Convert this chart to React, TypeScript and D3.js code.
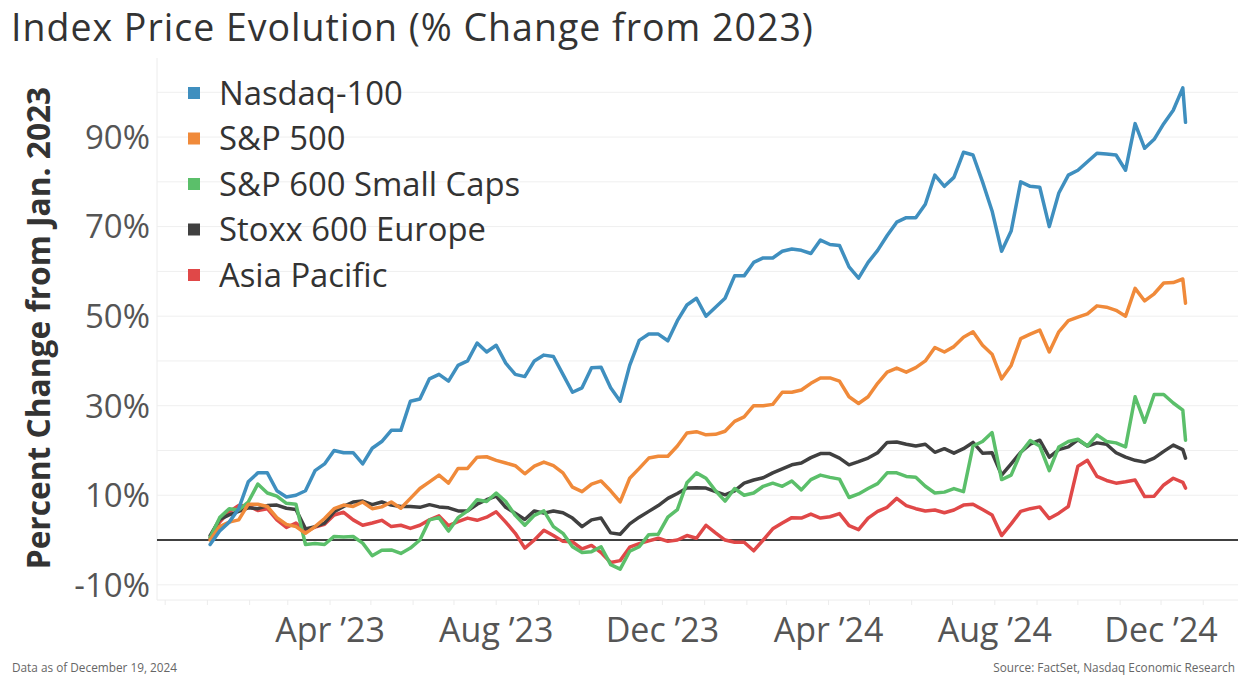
import React from "react";
import * as d3 from "d3";

const seriesNames = ["Nasdaq-100", "S&P 500", "S&P 600 Small Caps", "Stoxx 600 Europe", "Asia Pacific"];
const seriesColors = ["#3f8fbf", "#f08a3a", "#5bbf6a", "#404040", "#e04848"];

// weekly closes from Jan 3, 2023 plus the final close of Dec 19, 2024
const dates: Date[] = d3
  .range(103)
  .map((k) => d3.timeDay.offset(new Date(2023, 0, 3), 7 * k))
  .concat([new Date(2024, 11, 19)]);

const nasdaq = [
  -1, 2, 4, 7, 13, 15, 15, 11, 9.6, 10, 11, 15.5, 17, 20, 19.5, 19.5, 17, 20.5, 22, 24.5,
  24.5, 31, 31.5, 36, 37, 35.5, 39, 40, 44, 42, 43.5, 39.5, 37, 36.5, 40, 41.3, 41, 37, 33, 34,
  38.5, 38.6, 34, 31, 39, 44.6, 46, 46, 44.5, 49, 52.5, 54, 50, 52, 54, 59, 59, 62, 63, 63,
  64.5, 65, 64.7, 64, 67, 66, 65.8, 61, 58.5, 62, 64.7, 68, 71, 72, 72, 75, 81.5, 79, 81, 86.6,
  86, 80, 73.5, 64.5, 69, 80, 79, 78.8, 70, 77.5, 81.5, 82.6, 84.5, 86.4, 86.2, 86, 82.6, 93, 87.5, 89.5,
  93, 96, 101, 93.3,
];
const sp500 = [
  0, 3, 4, 4.5, 8, 8, 7.5, 5, 3.5, 3, 1.5, 3, 4.8, 7, 7.8, 7.5, 8.5, 7, 7.4, 8.5,
  7.1, 9.3, 11.5, 13, 14.5, 12.7, 16, 16, 18.5, 18.6, 17.8, 17.2, 16.6, 14.8, 16.5, 17.4, 16.6, 15, 11.8, 10.8,
  12.5, 13.2, 11, 8.5, 13.8, 16, 18.3, 18.7, 18.7, 21, 23.9, 24.2, 23.5, 23.6, 24.3, 26.5, 27.5, 30, 30, 30.3,
  33, 33, 33.5, 35, 36.2, 36.2, 35.5, 32, 30.5, 32, 35, 37.5, 38.4, 37.5, 38.5, 40, 43, 42, 43.2, 45.3,
  46.5, 43.5, 41.5, 36, 39, 45, 46, 46.9, 42, 46.5, 49, 49.8, 50.5, 52.3, 52, 51.3, 50, 56.2, 53.4, 55,
  57.4, 57.5, 58.3, 52.9,
];
const sp600 = [
  0.5, 5, 7, 6.7, 8.5, 12.5, 10.5, 9.8, 8.2, 8, -1, -0.8, -1, 0.8, 0.7, 0.8, -0.7, -3.5, -2.3, -2.2,
  -3, -1.8, 0, 4.5, 5, 2, 5, 6.5, 9, 8.6, 10.5, 8.6, 5.5, 3.3, 5.5, 6.5, 3, 1.5, -1.5, -2.8,
  -2.6, -1.5, -5.5, -6.5, -2.5, -1.5, 1.2, 1.3, 5.1, 6.8, 12.8, 15, 13.8, 11, 8.7, 11.5, 10, 10.5, 12, 12.7,
  12, 13.2, 11.2, 13.5, 14.5, 14, 13.6, 9.5, 10.3, 11.5, 12.6, 15, 15, 14.2, 14, 12, 10.5, 10.7, 11.5, 10.8,
  21, 22, 24, 13.5, 14.5, 19.5, 22.2, 21, 15.5, 20.8, 22, 22.5, 21, 23.5, 22, 21.7, 20.8, 32, 26.3, 32.5,
  32.5, 30.6, 29, 22.3,
];
const stoxx600 = [
  1, 4.6, 5.6, 6.4, 7.2, 7, 7.7, 7.8, 7.1, 6.8, 2.5, 3, 3.8, 6.3, 7.5, 8.5, 8.7, 7.9, 8.5, 7.8,
  7.5, 7.5, 7.3, 7.9, 7.4, 7.2, 6.5, 6.5, 8, 9, 9.8, 7.3, 6, 4.6, 6.5, 6, 6.5, 6.1, 4.9, 3,
  4.5, 4.9, 1.6, 1.3, 3.6, 5.1, 6.4, 7.7, 9.3, 10.4, 11.6, 11.7, 11.6, 10.8, 10.1, 11, 12.7, 13.4, 13.9, 15,
  15.9, 16.8, 17.2, 18.4, 19.3, 19.3, 18.3, 16.8, 17.5, 18.3, 19.5, 21.8, 21.9, 21.4, 21, 21.4, 19.6, 20.4, 19.4, 20.4,
  21.8, 19.4, 19.5, 14.5, 17, 19.6, 21.4, 22.3, 18.5, 20.2, 20.8, 22.4, 21, 21.7, 21.4, 19.5, 18.5, 17.8, 17.4, 18.3,
  19.8, 21.2, 20.2, 18.3,
];
const asiaPacific = [
  0.5, 4, 6.3, 7.7, 7.6, 6.6, 7, 4.5, 2.8, 3.8, 1.8, 2.9, 3.5, 5.6, 6.2, 4.5, 3.3, 3.8, 4.4, 3,
  3.3, 2.6, 3.3, 4.5, 5.4, 3.2, 4.1, 4.9, 4.4, 5.1, 6.3, 4, 1.5, -1.8, 0, 2.2, 1, -0.3, -0.4, -2,
  -1.2, -2.8, -5, -4.6, -1.6, -0.8, -0.2, 0.4, -0.3, 0, 1, 0.4, 3.3, 1.6, 0, -0.5, -0.5, -2.4, 0, 2.5,
  3.8, 5, 4.9, 5.8, 4.9, 5.2, 5.9, 3.2, 2.3, 4.9, 6.4, 7.3, 9.3, 7.7, 7, 6.5, 6.7, 6.1, 6.7, 7.8,
  8, 6.8, 5.6, 1, 3.6, 6.4, 7, 7.4, 4.8, 6, 7.5, 16.5, 17.8, 14.2, 13.3, 12.7, 13, 13.4, 9.7, 9.8,
  12.3, 13.8, 12.9, 11.6,
];
const seriesValues = [nasdaq, sp500, sp600, stoxx600, asiaPacific];

const yTickValues = [-10, 10, 30, 50, 70, 90];
const yGridValues = [-10, 0, 10, 20, 30, 40, 50, 60, 70, 80, 90, 100];
const xTickDates = [
  new Date(2023, 3, 1),
  new Date(2023, 7, 1),
  new Date(2023, 11, 1),
  new Date(2024, 3, 1),
  new Date(2024, 7, 1),
  new Date(2024, 11, 1),
];
const xTickLabels = ["Apr \u201923", "Aug \u201923", "Dec \u201923", "Apr \u201924", "Aug \u201924", "Dec \u201924"];

const FONT = "'Open Sans', Lato, sans-serif";

export default function App() {
  const W = 1254;
  const H = 680;
  const plotLeft = 157;
  const plotRight = 1238;
  const plotTop = 58;
  const plotBottom = 600;

  const x = d3
    .scaleTime()
    .domain([new Date(2023, 3, 1), new Date(2024, 11, 1)])
    .range([330, 1161]);
  const y = d3.scaleLinear().domain([-10, 100]).range([584.8, 92.3]);

  const line = d3
    .line<number>()
    .x((_, i) => x(dates[i]))
    .y((v) => y(v))
    .curve(d3.curveLinear);

  const monthTicks = d3.timeMonth.range(new Date(2022, 11, 1), new Date(2025, 0, 2));

  const legendY0 = 93;
  const legendStep = 45.5;

  return (
    <svg
      width={W}
      height={H}
      style={{ position: "absolute", left: 0, top: 0, display: "block", background: "#fff" }}
    >
      <text x={11} y={41} fontFamily={FONT} fontSize={37.5} letterSpacing={1} fill="#333">
        Index Price Evolution (% Change from 2023)
      </text>

      {/* frame */}
      <line x1={plotLeft} x2={plotLeft} y1={plotTop} y2={plotBottom} stroke="#ececec" strokeWidth={1} />
      <line x1={plotLeft} x2={plotRight} y1={plotBottom} y2={plotBottom} stroke="#ececec" strokeWidth={1} />
      {monthTicks.map((d, i) => (
        <line key={"mt" + i} x1={x(d)} x2={x(d)} y1={plotBottom} y2={plotBottom + 5} stroke="#ececec" strokeWidth={1} />
      ))}

      {/* gridlines */}
      {yGridValues.map((v) =>
        v === 0 ? null : (
          <line key={"g" + v} x1={plotLeft} x2={plotRight} y1={y(v)} y2={y(v)} stroke="#efefef" strokeWidth={1} />
        )
      )}

      {/* y tick labels */}
      {yTickValues.map((v) => (
        <text
          key={"yt" + v}
          x={150}
          y={y(v)}
          dy="0.36em"
          textAnchor="end"
          fontFamily={FONT}
          fontSize={33}
          fill="#555"
        >
          {v + "%"}
        </text>
      ))}

      {/* y axis title */}
      <text
        transform="translate(50,328) rotate(-90)"
        textAnchor="middle"
        fontFamily={FONT}
        fontWeight="bold"
        fontSize={31.7}
        fill="#333"
      >
        Percent Change from Jan. 2023
      </text>

      {/* x tick labels */}
      {xTickDates.map((d, i) => (
        <text
          key={"xt" + i}
          x={x(d)}
          y={642}
          textAnchor="middle"
          fontFamily={FONT}
          fontSize={34}
          fill="#555"
        >
          {xTickLabels[i]}
        </text>
      ))}

      {/* zero line */}
      <line x1={plotLeft} x2={plotRight} y1={y(0)} y2={y(0)} stroke="#000" strokeWidth={1.5} />

      {/* series */}
      {[4, 3, 2, 1, 0].map((si) => (
        <path
          key={"s" + si}
          d={line(seriesValues[si]) || ""}
          fill="none"
          stroke={seriesColors[si]}
          strokeWidth={3.5}
          strokeLinejoin="round"
          strokeLinecap="round"
        />
      ))}

      {/* legend */}
      {seriesNames.map((name, i) => (
        <g key={"lg" + i} transform={`translate(0,${legendY0 + i * legendStep})`}>
          <rect x={188} y={-6} width={12} height={12} fill={seriesColors[i]} />
          <text x={219} y={0} dy="0.36em" fontFamily={FONT} fontSize={32.8} fill="#333">
            {name}
          </text>
        </g>
      ))}

      {/* footer */}
      <text x={12} y={672} fontFamily={FONT} fontSize={11.8} fill="#666">
        Data as of December 19, 2024
      </text>
      <text x={1235} y={672} textAnchor="end" fontFamily={FONT} fontSize={11.8} fill="#666">
        Source: FactSet, Nasdaq Economic Research
      </text>
    </svg>
  );
}
